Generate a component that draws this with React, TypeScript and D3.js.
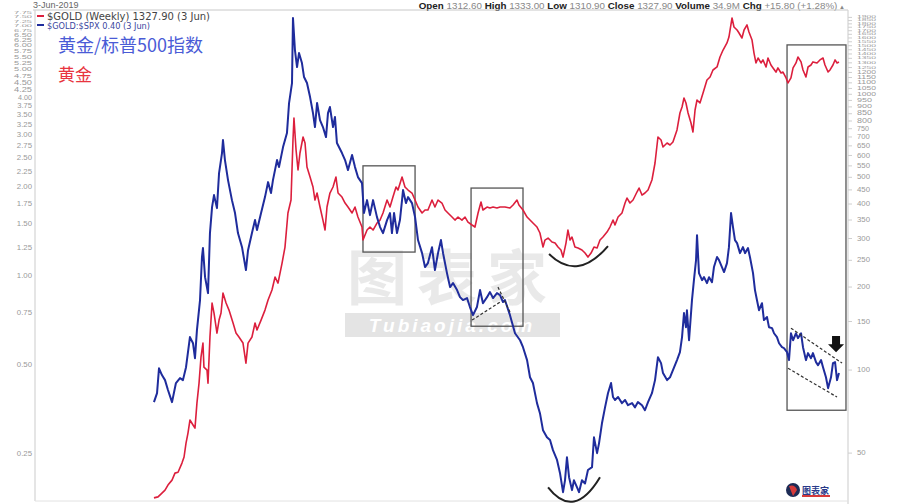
import React from 'react';
import * as d3 from 'd3';

// ---------------- DATA ----------------
const goldDates = [
  1970.14,1970.43,1970.71,1970.93,1971.14,1971.43,1971.64,1971.86,1972.14,1972.29,
  1972.43,1972.57,1972.71,1972.93,1973.07,1973.21,1973.36,1973.50,1973.64,1973.71,
  1973.93,1974.00,1974.14,1974.29,1974.43,1974.64,1974.79,1974.93,1975.07,1975.29,
  1975.50,1975.79,1976.00,1976.21,1976.50,1976.71,1976.86,1977.14,1977.36,1977.50,
  1977.79,1978.07,1978.29,1978.57,1978.79,1979.00,1979.29,1979.50,1979.71,1979.93,
  1980.07,1980.14,1980.29,1980.43,1980.57,1980.79,1980.93,1981.07,1981.29,1981.50,
  1981.64,1981.79,1982.00,1982.21,1982.36,1982.50,1982.71,1982.93,1983.14,1983.29,
  1983.57,1983.79,1984.00,1984.29,1984.50,1984.71,1985.00,1985.07,1985.36,1985.57,
  1985.79,1986.07,1986.29,1986.50,1986.79,1987.00,1987.21,1987.43,1987.57,1987.86,
  1988.07,1988.29,1988.57,1988.79,1989.00,1989.29,1989.50,1989.71,1990.00,1990.21,
  1990.43,1990.71,1990.93,1991.14,1991.43,1991.64,1991.86,1992.14,1992.36,1992.57,
  1992.86,1993.07,1993.29,1993.50,1993.64,1993.93,1994.14,1994.36,1994.64,1994.86,
  1995.21,1995.57,1995.79,1996.07,1996.21,1996.50,1996.79,1997.00,1997.21,1997.50,
  1997.71,1997.93,1998.07,1998.29,1998.57,1998.79,1999.00,1999.21,1999.36,1999.57,
  1999.71,1999.86,2000.00,2000.21,2000.43,2000.71,2000.93,2001.14,2001.36,2001.57,
  2001.79,2002.00,2002.21,2002.50,2002.71,2002.93,2003.07,2003.29,2003.57,2003.79,
  2003.93,2004.14,2004.36,2004.64,2004.79,2005.00,2005.21,2005.43,2005.71,2005.93,
  2006.14,2006.36,2006.50,2006.79,2007.00,2007.21,2007.50,2007.71,2007.86,2008.00,
  2008.14,2008.29,2008.50,2008.64,2008.79,2008.93,2009.14,2009.36,2009.64,2009.86,
  2010.07,2010.36,2010.57,2010.79,2011.07,2011.21,2011.43,2011.57,2011.79,2011.93,
  2012.14,2012.29,2012.50,2012.64,2012.86,2013.00,2013.14,2013.29,2013.50,2013.64,
  2013.86,2014.00,2014.21,2014.36,2014.57,2014.71,2014.93,2015.07,2015.29,2015.43,
  2015.64,2015.79,2016.00,2016.14,2016.36,2016.50,2016.71,2016.86,2017.07,2017.21,
  2017.50,2017.71,2017.93,2018.07,2018.29,2018.43,2018.64,2018.79,2018.93,2019.07,
];
const goldValues = [
  34.4,34.7,35.8,36.7,38.3,39.9,42.3,42.6,46.0,48.4,
  54.3,59.1,65.9,63.2,61.6,75.9,89.7,111.5,125.3,102.5,
  100,89.7,131.8,175.0,161.0,136.2,151.8,161.0,190.2,175.0,
  165.0,148.1,136.2,131.8,125.3,106.0,125.3,131.8,148.1,139.7,
  151.8,165.0,179.4,195.1,217.4,206.8,244.4,279.3,371.1,413.6,
  682.6,820,627.9,531.3,612.4,700,665.7,544.9,501.1,461.1,
  413.6,438.5,390.1,349.9,321.9,390.1,438.5,461.1,501.1,438.5,
  424.0,403.4,390.1,371.1,390.1,358.8,330.1,296.1,321.9,330.1,
  321.9,341.3,349.9,371.1,413.6,390.1,424.0,461.1,449.6,501.1,
  461.1,449.6,438.5,413.6,390.1,371.1,380.5,380.5,413.6,390.1,
  413.6,403.4,380.5,371.1,358.8,349.9,358.8,349.9,358.8,344.1,
  335.7,330.1,371.1,406.7,380.5,390.1,386.9,390.1,386.9,390.1,
  390.1,386.9,396.7,413.6,396.7,380.5,358.8,349.9,341.3,330.1,
  314.0,279.3,296.1,301.1,291.2,288.8,279.3,272.4,256.9,288.8,
  321.9,296.1,303.6,279.3,277.0,272.4,265.7,256.9,265.7,279.3,
  277.0,296.1,303.6,316.6,330.1,349.9,335.7,358.8,371.1,403.4,
  420.5,403.4,413.6,442.2,457.2,431.1,438.5,449.6,488.8,563.4,
  700,682.6,643.8,665.7,654.7,671.3,742.3,855.3,899.2,969.3,
  929.8,855.3,786.7,729.6,877.1,953.3,929.8,1010.6,1126.8,1155,
  1224.6,1256,1365,1447,1535,1613,1891,1754,1710,1668,
  1600,1710,1784,1682,1573,1411,1299,1354,1299,1332,
  1256,1354,1277,1246,1204,1246,1194,1204,1146,1099,
  1146,1246,1299,1365,1310,1225,1155,1256,1277,1310,
  1299,1332,1354,1277,1204,1225,1277,1332,1299,1310,
];

const ratioDates = [
  1970.14,1970.36,1970.50,1970.71,1970.93,1971.14,1971.43,1971.71,1972.00,1972.21,
  1972.43,1972.71,1972.93,1973.07,1973.21,1973.43,1973.57,1973.64,1973.79,1974.00,
  1974.14,1974.29,1974.43,1974.64,1974.79,1975.00,1975.07,1975.21,1975.43,1975.71,
  1975.93,1976.14,1976.43,1976.71,1976.86,1977.14,1977.36,1977.50,1977.79,1978.07,
  1978.29,1978.50,1978.64,1978.93,1979.07,1979.36,1979.64,1979.79,1980.00,1980.07,
  1980.21,1980.36,1980.50,1980.71,1980.86,1981.07,1981.29,1981.50,1981.64,1981.79,
  1982.00,1982.21,1982.43,1982.57,1982.71,1982.93,1983.07,1983.21,1983.57,1983.79,
  1984.00,1984.29,1984.50,1984.71,1985.00,1985.14,1985.36,1985.57,1985.79,1986.07,
  1986.29,1986.50,1986.79,1987.00,1987.14,1987.29,1987.50,1987.71,1987.86,1987.93,
  1988.14,1988.29,1988.57,1988.79,1989.00,1989.29,1989.50,1989.71,1990.00,1990.21,
  1990.43,1990.64,1990.79,1991.07,1991.29,1991.50,1991.79,1992.00,1992.21,1992.50,
  1992.71,1992.93,1993.21,1993.43,1993.64,1993.93,1994.14,1994.36,1994.64,1994.86,
  1995.07,1995.21,1995.57,1995.93,1996.29,1996.50,1996.79,1997.00,1997.21,1997.50,
  1997.71,1997.93,1998.21,1998.43,1998.64,1998.93,1999.14,1999.36,1999.50,1999.64,
  1999.79,2000.00,2000.14,2000.36,2000.50,2000.71,2000.93,2001.14,2001.43,2001.57,
  2001.79,2001.93,2002.14,2002.36,2002.57,2002.79,2002.93,2003.07,2003.29,2003.57,
  2003.79,2004.00,2004.29,2004.50,2004.71,2005.00,2005.21,2005.43,2005.71,2005.93,
  2006.14,2006.36,2006.50,2006.79,2007.00,2007.21,2007.50,2007.71,2007.86,2008.00,
  2008.14,2008.21,2008.36,2008.57,2008.71,2008.86,2008.93,2009.07,2009.29,2009.43,
  2009.64,2009.79,2010.00,2010.14,2010.36,2010.50,2010.71,2010.86,2011.07,2011.21,
  2011.36,2011.50,2011.64,2011.79,2012.00,2012.21,2012.36,2012.57,2012.71,2012.93,
  2013.07,2013.21,2013.36,2013.57,2013.71,2013.93,2014.07,2014.29,2014.43,2014.64,
  2014.79,2015.00,2015.14,2015.36,2015.50,2015.64,2015.79,2016.00,2016.14,2016.36,
  2016.50,2016.71,2016.86,2017.07,2017.21,2017.43,2017.57,2017.79,2017.93,2018.14,
  2018.29,2018.50,2018.64,2018.79,2018.93,2019.07,
];
const ratioValues = [
  0.375,0.402,0.488,0.463,0.445,0.412,0.375,0.435,0.452,0.445,
  0.492,0.622,0.593,0.528,0.657,0.830,1.160,1.244,0.992,0.876,
  1.398,1.712,1.879,1.698,2.231,2.607,2.884,2.468,2.112,1.807,
  1.634,1.398,1.253,1.048,1.224,1.398,1.547,1.431,1.634,1.850,
  2.079,1.909,2.112,2.468,2.337,2.731,3.046,3.848,4.496,7.459,
  5.813,5.093,5.679,5.253,4.711,4.496,4.031,3.559,3.192,3.848,
  3.370,3.192,2.952,3.559,3.729,3.192,3.450,2.818,2.607,2.468,
  2.283,2.566,2.337,2.162,2.063,1.634,1.807,1.608,1.807,1.583,
  1.465,1.398,1.547,1.634,1.398,1.634,1.398,1.547,1.807,1.954,
  1.766,1.850,1.766,1.583,1.324,1.196,1.073,1.107,1.253,1.048,
  1.196,1.324,1.196,1.024,0.918,0.947,0.897,0.849,0.830,0.843,
  0.786,0.738,0.786,0.897,0.810,0.849,0.883,0.843,0.876,0.862,
  0.817,0.830,0.738,0.641,0.607,0.575,0.520,0.455,0.435,0.372,
  0.344,0.301,0.285,0.279,0.258,0.239,0.216,0.186,0.204,0.244,
  0.209,0.189,0.204,0.193,0.186,0.204,0.199,0.221,0.226,0.285,
  0.252,0.272,0.318,0.360,0.402,0.435,0.390,0.381,0.390,0.372,
  0.381,0.366,0.372,0.360,0.375,0.366,0.352,0.375,0.402,0.445,
  0.532,0.508,0.470,0.445,0.455,0.481,0.520,0.553,0.622,0.750,
  0.672,0.767,0.607,0.830,0.969,1.133,1.376,1.024,0.969,0.992,
  0.947,0.992,0.954,1.073,1.160,1.133,1.073,1.032,1.107,1.253,
  1.634,1.465,1.324,1.293,1.196,1.253,1.196,1.244,1.160,1.024,
  0.897,0.830,0.767,0.810,0.710,0.727,0.672,0.667,0.641,0.622,
  0.593,0.575,0.571,0.553,0.520,0.641,0.607,0.641,0.617,0.641,
  0.575,0.520,0.549,0.528,0.549,0.512,0.500,0.520,0.492,0.455,
  0.418,0.455,0.508,0.512,0.445,0.470,
];

const goldTicks = [
  50,100,150,200,250,300,350,400,450,500,550,600,650,700,750,800,850,900,950,
  1000,1050,1100,1150,1200,1250,1300,1350,1400,1450,1500,1550,1600,1650,1700,
  1750,1800,1850,1900,
];
const ratioTicks = [
  0.25,0.5,0.75,1.0,1.25,1.5,1.75,2.0,2.25,2.5,2.75,3.0,3.25,3.5,3.75,4.0,4.25,
  4.5,4.75,5.0,5.25,5.5,5.75,6.0,6.25,6.5,6.75,7.0,7.25,7.5,7.75,
];

// annotation boxes on the ratio (left) scale: [date0, date1, ratioLow, ratioHigh]
const boxes = [
  [1985.07, 1988.79, 1.206, 2.36],
  [1992.79, 1996.5, 0.677, 1.985],
  [2015.36, 2019.57, 0.352, 6.05],
];
// dashed trend lines on ratio scale: [date0, ratio0, date1, ratio1]
const dashLines = [
  [1992.86, 0.71, 1994.86, 0.817],
  [1994.71, 0.918, 1995.57, 0.756],
  [2015.64, 0.667, 2019.29, 0.508],
  [2015.43, 0.488, 2018.93, 0.39],
];
// arcs: start, bottom, end points [date, value]
const goldArc = [[1998.36, 263.4], [2000.43, 238.4], [2002.57, 281.7]];
const ratioArc = [[1998.29, 0.193], [2000.14, 0.173], [2002.0, 0.209]];
const arrowAt = [2018.86, 0.627, 0.553];

const headerItems = [
  ['Open', '1312.60'],
  ['High', '1333.00'],
  ['Low', '1310.90'],
  ['Close', '1327.90'],
  ['Volume', '34.9M'],
  ['Chg', '+15.80 (+1.28%)'],
];

const RED = '#dc1f3d';
const BLUE = '#1f2c9c';

// font size for a tick label so that it does not run into its neighbours
function tickSizes(ticks: number[], scale: (v: number) => number, maxSize: number) {
  const ys = ticks.map(t => scale(t));
  return ys.map((y, i) => {
    let gap = Infinity;
    if (i > 0) gap = Math.min(gap, Math.abs(y - ys[i - 1]));
    if (i < ys.length - 1) gap = Math.min(gap, Math.abs(ys[i + 1] - y));
    return Math.min(maxSize, gap * 0.92);
  });
}

export default function App() {
  const x = d3.scaleLinear().domain([1970, 2020]).range([152, 852]);
  const yGold = d3.scaleLog().domain([33.8, 2021]).range([500, 10]);
  const yRatio = d3.scaleLog().domain([0.175, 7.94]).range([500, 10]);

  const goldData: [number, number][] = goldDates.map((t, i) => [t, goldValues[i]]);
  const ratioData: [number, number][] = ratioDates.map((t, i) => [t, ratioValues[i]]);

  const goldLine = d3.line<[number, number]>().x(d => x(d[0])).y(d => yGold(d[1]))(goldData) || '';
  const ratioLine = d3.line<[number, number]>().x(d => x(d[0])).y(d => yRatio(d[1]))(ratioData) || '';

  const arcPath = (pts: number[][], ys: any) => {
    const p0 = [x(pts[0][0]), ys(pts[0][1])];
    const m = [x(pts[1][0]), ys(pts[1][1])];
    const p2 = [x(pts[2][0]), ys(pts[2][1])];
    const c = [2 * m[0] - (p0[0] + p2[0]) / 2, 2 * m[1] - (p0[1] + p2[1]) / 2];
    return `M${p0[0]},${p0[1]} Q${c[0]},${c[1]} ${p2[0]},${p2[1]}`;
  };

  const ax = x(arrowAt[0]);
  const aTop = yRatio(arrowAt[1]);
  const aBot = yRatio(arrowAt[2]);
  const aMid = aTop + (aBot - aTop) * 0.5;
  const arrowPath = `M${ax - 4},${aTop} L${ax + 4},${aTop} L${ax + 4},${aMid} L${ax + 8},${aMid} L${ax},${aBot} L${ax - 8},${aMid} L${ax - 4},${aMid} Z`;

  const leftSizes = tickSizes(ratioTicks, yRatio, 7.8);
  const rightSizes = tickSizes(goldTicks, yGold, 7.8);

  const font = 'Liberation Sans, Arial, sans-serif';

  return (
    <svg width={897} height={504} style={{ position: 'absolute', left: 0, top: 0, display: 'block' }}
      fontFamily={font}>
      <rect x={0} y={0} width={897} height={504} fill="#ffffff" />

      {/* header */}
      <text x={33} y={8} fontSize={9} fill="#666">3-Jun-2019</text>
      <text x={845} y={8.5} fontSize={9.8} textAnchor="end" fill="#888">
        {headerItems.map(([k, v], i) => (
          <React.Fragment key={k}>
            <tspan fontWeight="bold" fill="#222">{(i > 0 ? ' ' : '') + k}</tspan>
            <tspan fill="#888">{' ' + v}</tspan>
          </React.Fragment>
        ))}
        <tspan fill="#888" fontSize={6}>{' ▲'}</tspan>
      </text>
      <line x1={33} x2={848} y1={10} y2={10} stroke="#c8c8c8" strokeWidth={1} />

      {/* axes frame */}
      <line x1={35} x2={35} y1={10} y2={501} stroke="#d4d4d4" strokeWidth={1.2} />
      <line x1={848} x2={848} y1={10} y2={504} stroke="#d4d4d4" strokeWidth={1.2} />
      <line x1={35} x2={848} y1={501} y2={501} stroke="#e2e2e2" strokeWidth={1} />

      {/* left ticks */}
      {ratioTicks.map((t, i) => (
        <text key={'l' + t} x={32} y={yRatio(t)} fontSize={leftSizes[i]} textAnchor="end" dominantBaseline="middle"
          fill="#999" textLength={leftSizes[i] < 7 ? 18 : undefined} lengthAdjust="spacingAndGlyphs">
          {t.toFixed(2)}
        </text>
      ))}
      {/* right ticks */}
      {goldTicks.map((t, i) => (
        <g key={'r' + t}>
          <line x1={848} x2={852} y1={yGold(t)} y2={yGold(t)} stroke="#cfcfcf" />
          <text x={857} y={yGold(t)} fontSize={rightSizes[i]} dominantBaseline="middle" fill="#999"
            textLength={rightSizes[i] < 7 ? (t >= 1000 ? 19 : 15) : undefined} lengthAdjust="spacingAndGlyphs">{t}</text>
        </g>
      ))}

      {/* watermark */}
      <g opacity={0.45}>
        <text x={452} y={300} fontSize={60} fontWeight="bold" textAnchor="middle" fill="#d0d0d0"
          fontFamily="Noto Sans CJK SC, sans-serif" letterSpacing={10}>图表家</text>
        <rect x={345} y={313} width={215} height={24} fill="#c4c4c4" />
        <text x={452} y={332} fontSize={19} fontWeight="bold" fontStyle="italic" textAnchor="middle" fill="#ffffff"
          letterSpacing={3}>Tubiaojia.com</text>
      </g>

      {/* boxes */}
      {boxes.map((b, i) => (
        <rect key={'b' + i} x={x(b[0])} y={yRatio(b[3])} width={x(b[1]) - x(b[0])} height={yRatio(b[2]) - yRatio(b[3])}
          fill="none" stroke="#555" strokeWidth={1.3} />
      ))}

      {/* series */}
      <path d={goldLine} fill="none" stroke={RED} strokeWidth={1.6} strokeLinejoin="round" />
      <path d={ratioLine} fill="none" stroke={BLUE} strokeWidth={2} strokeLinejoin="round" />

      {/* dashed lines */}
      {dashLines.map((l, i) => (
        <line key={'d' + i} x1={x(l[0])} y1={yRatio(l[1])} x2={x(l[2])} y2={yRatio(l[3])}
          stroke="#333" strokeWidth={1.2} strokeDasharray="3,2" />
      ))}

      {/* arcs */}
      <path d={arcPath(goldArc, yGold)} fill="none" stroke="#222" strokeWidth={2} />
      <path d={arcPath(ratioArc, yRatio)} fill="none" stroke="#222" strokeWidth={2} />

      {/* arrow */}
      <path d={arrowPath} fill="#111" />

      {/* legend */}
      <line x1={37} x2={44} y1={16} y2={16} stroke={RED} strokeWidth={2} />
      <text x={47} y={19.5} fontSize={10} fill="#444" fontFamily="DejaVu Sans, sans-serif">$GOLD (Weekly) 1327.90 (3 Jun)</text>
      <line x1={37} x2={44} y1={25} y2={25} stroke={BLUE} strokeWidth={2} />
      <text x={47} y={28.5} fontSize={8.2} fill="#3a46a0" fontFamily="DejaVu Sans, sans-serif">$GOLD:$SPX 0.40 (3 Jun)</text>

      <text x={58} y={52} fontSize={18} fill="#4a5bd6" fontFamily="Noto Sans CJK SC, sans-serif">黄金/标普500指数</text>
      <text x={58} y={81} fontSize={17} fill="#e8343f" fontFamily="Noto Sans CJK SC, sans-serif">黄金</text>

      {/* logo */}
      <circle cx={793} cy={490} r={7} fill="#1d2b55" />
      <path d="M789,486 Q795,484 797,490 L793,496 Z" fill="#d63a3a" />
      <text x={802} y={494} fontSize={9} fontWeight="bold" fill="#2a3a8a" fontFamily="Noto Sans CJK SC, sans-serif">图表家</text>
      <rect x={802} y={495} width={28} height={2} fill="#d63a3a" />
    </svg>
  );
}
